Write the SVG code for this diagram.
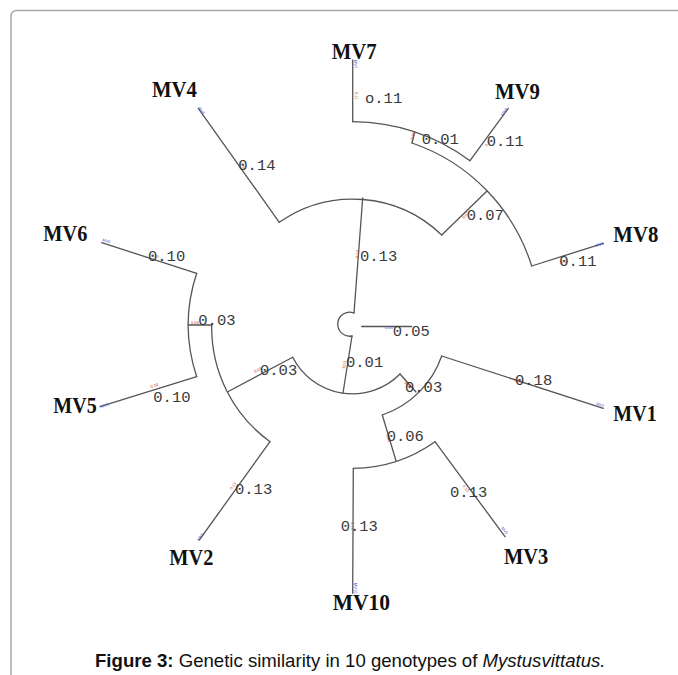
<svg xmlns="http://www.w3.org/2000/svg" width="678" height="675" viewBox="0 0 678 675">
<style>
.br{fill:none;stroke:#555;stroke-width:1.3;stroke-linecap:round;stroke-linejoin:round}
.num{font-family:"Liberation Mono","DejaVu Sans Mono",monospace;font-size:15.5px;fill:#3a3a3a}
.lab{font-family:"Liberation Serif","DejaVu Serif",serif;font-weight:bold;font-size:24px;fill:#111}
.tb{font-family:"Liberation Sans",sans-serif;font-size:4px;fill:#3a4fd6}
.tr{font-family:"Liberation Sans",sans-serif;font-size:4px;fill:#c0392b}
.cap{font-family:"Liberation Sans",Arial,sans-serif;font-size:18.6px;fill:#111}
</style>
<rect width="678" height="675" fill="#fff"/>
<path d="M11,675 L11,16.5 Q11,10.5 17,10.5 L678,10.5" fill="none" stroke="#aaa" stroke-width="1.5"/>
<g id="connectors">
<path class="br" d="M354,313 A12,12 0 1,0 352,336"/>
<path class="br" d="M354,313 L362.7,198"/>
<path class="br" d="M279.3,222.3 A128,128 0 0,1 441.7,235"/>
<path class="br" d="M279.3,222.3 L198.3,108.3"/>
<path class="br" d="M441.7,235 L487,191"/>
<path class="br" d="M412,143 A190,190 0 0,1 531.7,266"/>
<path class="br" d="M412,143 L414.5,132.5"/>
<path class="br" d="M352.7,121.7 A203,203 0 0,1 470,160.7"/>
<path class="br" d="M352.7,60 L352.7,121.7"/>
<path class="br" d="M470,160.7 L508.3,108.3"/>
<path class="br" d="M531.7,266 L603.3,243.3"/>
<path class="br" d="M361.7,326.5 L411.7,326.5"/>
<path class="br" d="M352,336 L343,393"/>
<path class="br" d="M292.7,357.3 A67,67 0 0,0 400,374"/>
<path class="br" d="M292.7,357.3 L228.3,391.5"/>
<path class="br" d="M400,374 L416,392"/>
<path class="br" d="M441.7,356 A95,95 0 0,1 382.3,415"/>
<path class="br" d="M441.7,356 L603.3,408.3"/>
<path class="br" d="M382.3,415 L396,460.7"/>
<path class="br" d="M353.3,468.3 A143,143 0 0,0 435,441.7"/>
<path class="br" d="M353.3,468.3 L352.7,593.3"/>
<path class="br" d="M435,441.7 L505,536.7"/>
<path class="br" d="M211.7,325 A141,141 0 0,0 270,441.7"/>
<path class="br" d="M270,441.7 L199.3,540"/>
<path class="br" d="M188.3,325 L211.7,325"/>
<path class="br" d="M196.7,273.3 A164,164 0 0,0 196.7,376.7"/>
<path class="br" d="M196.7,273.3 L101.7,242.7"/>
<path class="br" d="M196.7,376.7 L100,406.7"/>
</g>
<g id="branch-values">
<text class="tr" transform="translate(354.5,92) rotate(90)">0.11</text>
<text class="num" x="365" y="102.5">o.11</text>
<text class="tr" transform="translate(413,140) rotate(-72)">0.01</text>
<text class="num" x="421.7" y="143.5">0.01</text>
<text class="tr" transform="translate(487,147) rotate(-54)">0.11</text>
<text class="num" x="486.7" y="146">0.11</text>
<text class="tr" transform="translate(240,164) rotate(54)">0.14</text>
<text class="num" x="238.3" y="170">0.14</text>
<text class="tr" transform="translate(358.5,258) rotate(-85)">0.13</text>
<text class="num" x="360" y="260.5">0.13</text>
<text class="tr" transform="translate(464,219) rotate(-45)">0.07</text>
<text class="num" x="466.7" y="220">0.07</text>
<text class="tr" transform="translate(561,264) rotate(-18)">0.11</text>
<text class="num" x="559.3" y="266">0.11</text>
<text class="tb" x="385" y="328.5">0.05</text>
<text class="num" x="392.7" y="336">0.05</text>
<text class="tr" transform="translate(343.5,361) rotate(98)">0.01</text>
<text class="num" x="346" y="367">0.01</text>
<text class="tr" transform="translate(404,383) rotate(45)">0.03</text>
<text class="num" x="405" y="391.5">0.03</text>
<text class="tr" transform="translate(514,381) rotate(18)">0.18</text>
<text class="num" x="515" y="385">0.18</text>
<text class="tr" transform="translate(386,435) rotate(72)">0.06</text>
<text class="num" x="386.7" y="440.5">0.06</text>
<text class="tr" transform="translate(462.5,486) rotate(54)">0.13</text>
<text class="num" x="450" y="496.5">0.13</text>
<text class="tr" transform="translate(351,522) rotate(90)">0.13</text>
<text class="num" x="340.7" y="531">0.13</text>
<text class="tr" transform="translate(232,490) rotate(-54)">0.13</text>
<text class="num" x="235" y="493.5">0.13</text>
<text class="tr" transform="translate(255,373) rotate(-28)">0.03</text>
<text class="num" x="260" y="375">0.03</text>
<text class="tr" x="191" y="324">0.03</text>
<text class="num" x="198.3" y="325">0.03</text>
<text class="tr" transform="translate(151,256) rotate(18)">0.10</text>
<text class="num" x="148" y="260.5">0.10</text>
<text class="tr" transform="translate(151,388) rotate(-17)">0.10</text>
<text class="num" x="153.3" y="401.5">0.10</text>
</g>
<g id="MV7"><text class="tb" transform="translate(354,60) rotate(90)">MV7</text><text class="lab" x="331.7" y="59" textLength="45" lengthAdjust="spacingAndGlyphs">MV7</text></g>
<g id="MV4"><text class="tb" transform="translate(198,108) rotate(54)">MV4</text><text class="lab" x="152" y="97" textLength="45" lengthAdjust="spacingAndGlyphs">MV4</text></g>
<g id="MV9"><text class="tb" transform="translate(503,116) rotate(-54)">MV9</text><text class="lab" x="495" y="99" textLength="45" lengthAdjust="spacingAndGlyphs">MV9</text></g>
<g id="MV6"><text class="tb" transform="translate(102,241) rotate(18)">MV6</text><text class="lab" x="43.3" y="240.7" textLength="44" lengthAdjust="spacingAndGlyphs">MV6</text></g>
<g id="MV8"><text class="tb" transform="translate(596,247) rotate(-18)">MV8</text><text class="lab" x="613.3" y="241.7" textLength="45" lengthAdjust="spacingAndGlyphs">MV8</text></g>
<g id="MV5"><text class="tb" transform="translate(101,408) rotate(-17)">MV5</text><text class="lab" x="53.3" y="413.3" textLength="43.4" lengthAdjust="spacingAndGlyphs">MV5</text></g>
<g id="MV1"><text class="tb" transform="translate(596,405) rotate(18)">MV1</text><text class="lab" x="613.3" y="420.7" textLength="43.4" lengthAdjust="spacingAndGlyphs">MV1</text></g>
<g id="MV2"><text class="tb" transform="translate(199,541) rotate(-54)">MV2</text><text class="lab" x="169.3" y="565" textLength="44" lengthAdjust="spacingAndGlyphs">MV2</text></g>
<g id="MV3"><text class="tb" transform="translate(501,528) rotate(54)">MV3</text><text class="lab" x="504" y="564" textLength="44.3" lengthAdjust="spacingAndGlyphs">MV3</text></g>
<g id="MV10"><text class="tb" transform="translate(354,583) rotate(90)">MV10</text><text class="lab" x="332.7" y="610" textLength="57.3" lengthAdjust="spacingAndGlyphs">MV10</text></g>
<text class="cap" x="95" y="666.5"><tspan font-weight="bold">Figure 3:</tspan> Genetic similarity in 10 genotypes of <tspan font-style="italic">Mystusvittatus.</tspan></text>
</svg>
